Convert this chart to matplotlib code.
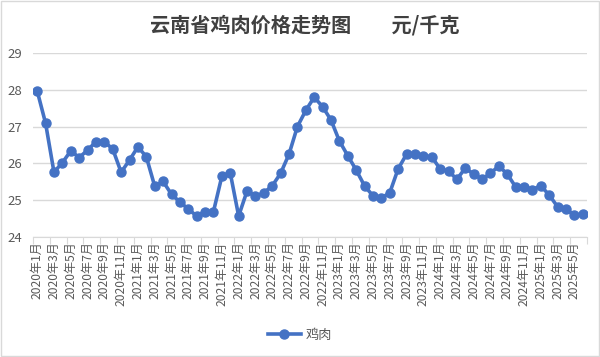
import matplotlib
matplotlib.use("Agg")
import matplotlib.pyplot as plt
from matplotlib.patches import Rectangle

plt.rcParams['font.family'] = ['Noto Sans CJK SC', 'DejaVu Sans']

months = [f"{y}年{m}月" for y in range(2020, 2026) for m in range(1, 13)][:66]
prices = [27.97, 27.09, 25.76, 26.02, 26.34, 26.16, 26.36, 26.59, 26.59, 26.39, 25.76, 26.09,
          26.45, 26.18, 25.38, 25.51, 25.16, 24.95, 24.76, 24.57, 24.69, 24.69, 25.65, 25.74,
          24.57, 25.25, 25.11, 25.20, 25.39, 25.73, 26.25, 27.00, 27.44, 27.80, 27.54, 27.18,
          26.61, 26.21, 25.82, 25.39, 25.12, 25.06, 25.20, 25.85, 26.25, 26.25, 26.20, 26.18,
          25.85, 25.79, 25.57, 25.87, 25.71, 25.57, 25.73, 25.93, 25.71, 25.36, 25.36, 25.29,
          25.39, 25.14, 24.82, 24.76, 24.59, 24.62]
series_name = "鸡肉"
title = "云南省鸡肉价格走势图　　元/千克"
yticks = [24, 25, 26, 27, 28, 29]

fig = plt.figure(figsize=(6, 3.57), dpi=100)
ax = fig.add_axes([33/600, 1-237/357, 554/600, 184/357])

x = list(range(len(prices)))
line, = ax.plot(x, prices, color='#4472C4', lw=2.6, marker='o', ms=6.5,
                markerfacecolor='#4472C4', markeredgecolor='#4472C4', label=series_name)

ax.set_xlim(-0.5, len(prices) - 0.5)
ax.set_ylim(24, 29)
ax.set_yticks(yticks)
ax.grid(axis='y', color='#d9d9d9', lw=1)
ax.set_axisbelow(True)
for s in ['top', 'right', 'left']:
    ax.spines[s].set_visible(False)
ax.spines['bottom'].set_color('#d9d9d9')
ax.tick_params(axis='y', length=0, labelsize=9.5, labelcolor='#595959', pad=8)

major = [i - 0.5 for i in range(0, len(prices) + 1, 2)]
ax.set_xticks(major)
ax.set_xticklabels([])
ax.tick_params(axis='x', which='major', length=5, color='#d9d9d9')
ax.set_xticks(x[::2], minor=True)
ax.set_xticklabels(months[::2], minor=True, rotation=90, fontsize=8.7, color='#595959')
ax.tick_params(axis='x', which='minor', length=0, pad=3)

fig.text(305/600, 1-25/357, title, ha='center', va='center', fontsize=14.5,
         fontweight='bold', color='#404040')

fig.legend(handles=[line], loc='center', bbox_to_anchor=(0.5, 1-335/357), frameon=False,
           fontsize=9.5, labelcolor='#595959', handlelength=2.5, handletextpad=0.4)

fig.add_artist(Rectangle((0.002, 0.003), 0.996, 0.994, transform=fig.transFigure,
                         fill=False, edgecolor='#d9d9d9', lw=1))

fig.savefig("out.png", dpi=100)
